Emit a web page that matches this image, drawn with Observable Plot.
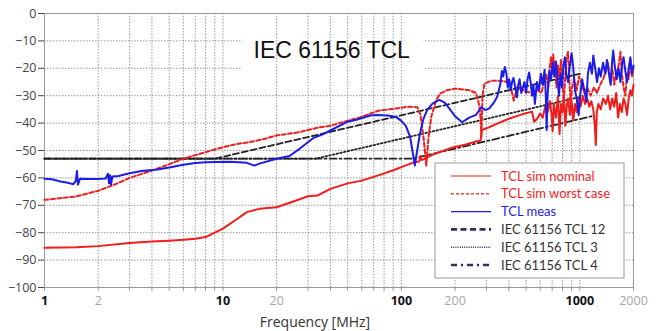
<!DOCTYPE html>
<html><head><meta charset="utf-8">
<script src="https://cdn.jsdelivr.net/npm/d3@7"></script>
<script src="https://cdn.jsdelivr.net/npm/@observablehq/plot@0.6"></script>
<style>
html,body{margin:0;padding:0;background:#fff;}
#chart{position:relative;width:658px;height:331px;}
</style></head><body><div id="chart"></div>
<script>
// [frequency MHz, TCL dB]
const simNominal = [[1,-85.5],[1.5,-85.3],[2,-84.9],[3,-83.8],[4,-83.2],[5,-82.9],[6,-82.6],[7,-82.2],[8,-81.6],[9,-80],[10,-78.5],[12,-75],[13.6,-72.5],[16,-71.3],[20,-70.7],[25,-68.5],[30,-66.7],[34,-66.4],[40,-64],[50,-62],[60,-61],[75,-59],[91,-57.1],[105,-55.5],[118,-54.3],[126,-54],[128,-52],[130,-53.5],[150,-51.5],[192,-49],[230,-47.8],[265,-46.6],[278,-46.4],[282,-42.5],[310,-41.5],[350,-40],[400,-38.4],[475,-36.8],[540,-35.8],[555,-39.5],[575,-38.5],[600,-36.5],[620,-38],[640,-34],[660,-36],[680,-32],[695,-37],[705,-43],[715,-33],[735,-38],[755,-30],[770,-44],[785,-33],[800,-36],[815,-30],[830,-41],[845,-34],[860,-31],[880,-37],[900,-32],[920,-39],[940,-33],[960,-36],[985,-31],[1010,-34],[1040,-30],[1070,-33],[1100,-31],[1130,-34],[1160,-32],[1190,-35],[1215,-41],[1230,-48],[1245,-36],[1270,-33],[1310,-35],[1350,-31],[1400,-33],[1440,-30],[1480,-35],[1520,-31],[1560,-34],[1600,-29],[1640,-38],[1680,-33],[1720,-36],[1760,-31],[1800,-33],[1840,-37],[1880,-31],[1920,-28],[1960,-30],[2000,-26]];
const simWorst = [[1,-68],[1.5,-66.8],[2,-64.7],[2.5,-62.3],[3,-60],[4,-57.3],[5,-55],[6,-53],[8,-50.6],[10,-48.8],[12,-47.6],[14,-47],[17,-45.8],[20,-44.5],[27,-43.3],[30,-42.5],[35,-41.5],[40,-41],[49,-39.3],[58,-38],[75,-35.4],[90,-34.8],[110,-34],[123,-34.2],[128,-37],[133,-45],[138,-55.5],[142,-45],[147,-37.8],[157,-31.5],[165,-29.2],[180,-28],[202,-27.4],[240,-28],[262,-29],[272,-33],[277,-37],[281,-45],[285,-30],[292,-25.6],[320,-24.5],[350,-24.5],[380,-24.7],[410,-26],[420,-30],[427,-31.8],[445,-27],[500,-28.5],[540,-29],[580,-28],[610,-29],[630,-25],[650,-22],[665,-27],[680,-19],[690,-16],[700,-22],[710,-15],[725,-20],[740,-27],[755,-19],[770,-24],[785,-17],[800,-26],[815,-32],[830,-22],[845,-16],[860,-14],[875,-25],[890,-33],[905,-27],[930,-24],[960,-28],[990,-23],[1020,-25],[1060,-29],[1100,-27],[1150,-30],[1200,-27],[1250,-29],[1300,-26],[1350,-24],[1400,-21],[1440,-18],[1480,-25],[1520,-20],[1560,-26],[1600,-22],[1650,-19],[1690,-14],[1720,-22],[1760,-27],[1800,-30],[1840,-22],[1880,-24],[1920,-17],[1960,-23],[2000,-20]];
const meas = [[1,-60.3],[1.1,-60.5],[1.23,-61.3],[1.35,-61.8],[1.45,-62.3],[1.5,-61],[1.52,-57.5],[1.54,-62.5],[1.58,-60.3],[1.8,-60.4],[2.0,-60.4],[2.2,-60.2],[2.27,-58.5],[2.3,-62],[2.33,-59],[2.36,-62.5],[2.4,-59.5],[2.6,-59.3],[3,-58.3],[3.5,-57.5],[4.3,-56.9],[5,-56.2],[6,-55.2],[7,-54.6],[8,-54.3],[9.2,-54.2],[11,-54.1],[13.6,-54.5],[15,-55.5],[16,-54.8],[20,-53],[23.6,-52],[27,-49.3],[32,-45.5],[36,-44.2],[40,-42.7],[50,-39.5],[56,-38.8],[67,-37.2],[72.5,-37],[84,-37.2],[93.5,-37.8],[100,-39.2],[106,-41],[112,-45],[116,-51],[119,-55.5],[122,-51],[127,-44],[133,-38.5],[140,-35],[150,-32.8],[163,-31.5],[175,-32.5],[186,-34.7],[200,-37.5],[219,-39.7],[240,-38],[262,-37],[272,-35.5],[280,-34.2],[295,-35.2],[310,-34.7],[330,-32.5],[344,-30.5],[358,-26],[366,-21],[372,-23],[380,-19.5],[388,-22],[395,-27],[402,-24],[410,-28],[417,-25],[425,-23.5],[435,-27],[445,-30.6],[452,-26],[460,-24],[470,-29],[480,-27],[490,-25],[500,-29],[510,-24],[520,-21.5],[530,-25],[540,-30],[550,-26],[560,-33],[575,-25],[590,-28],[605,-22],[620,-26],[635,-20.5],[645,-30],[652,-42.5],[660,-30],[675,-21],[690,-24],[705,-18],[720,-23],[735,-17.5],[750,-24],[765,-30],[780,-22],[795,-27],[810,-19],[825,-16],[840,-22],[860,-25],[880,-19],[900,-14.5],[920,-20],[940,-28],[960,-31],[985,-37],[1005,-30],[1030,-24],[1060,-28],[1090,-32],[1110,-22],[1140,-18],[1170,-22],[1190,-15.3],[1220,-20],[1250,-25],[1280,-20],[1310,-23],[1350,-18],[1390,-22],[1420,-17],[1450,-21],[1490,-26],[1520,-17],[1540,-13.5],[1570,-19],[1610,-24],[1650,-20],[1690,-25],[1730,-18],[1760,-16],[1800,-21],[1840,-25],[1880,-20],[1920,-16],[1960,-22],[2000,-19]];
const iecTcl12 = [[1,-53],[9,-53],[1000,-22]];
const iecTcl3 = [[1,-53],[33,-53],[1000,-30.5]];
const iecTcl4 = [[1,-53],[115,-53],[1200,-37.3]];

const seriesNames = ["TCL sim nominal","TCL sim worst case","TCL meas","IEC 61156 TCL 12","IEC 61156 TCL 3","IEC 61156 TCL 4"];
const xTickLabels = [1,2,3,4,5,6,8,10,20,30,40,60,100,200,300,500,1000,2000];
const xMajorLabels = [1,10,100,1000];
const xGridValues = [2,3,4,5,6,7,8,9,10,20,30,40,50,60,70,80,90,100,200,300,400,500,600,700,800,900,1000];
const yTicks = [0,-10,-20,-30,-40,-50,-60,-70,-80,-90,-100];
const titleText = "IEC 61156 TCL";
const xLabelText = "Frequency [MHz]";

const rows = arr => arr.map(([f, db]) => ({f, db}));

const styles = [
  {stroke:"#f21c1c", width:2, dash:null, lw:1.2, ldash:null, text:"#f21c1c"},
  {stroke:"#f21c1c", width:2, dash:"4,2.5", lw:1.2, ldash:"3,2", text:"#f21c1c"},
  {stroke:"#1c1ce8", width:2, dash:null, lw:1.2, ldash:null, text:"#1c1ce8"},
  {stroke:"#222", width:1.8, dash:"6,3", lw:2.6, ldash:"6,3.5", lstroke:"#2c2f66", text:"#333"},
  {stroke:"#222", width:1.8, dash:"1.6,2.2", lw:1.5, ldash:"1,1.2", lstroke:"#2c2f66", text:"#333"},
  {stroke:"#222", width:1.8, dash:"7,3,2,3", lw:2.4, ldash:"6,4,2,4", lstroke:"#2c2f66", text:"#333"}
];
const seriesData = [simNominal, simWorst, meas, iecTcl12, iecTcl3, iecTcl4];
const drawOrder = [3,4,5,1,0,2];

const minorLabels = xTickLabels.filter(d => !xMajorLabels.includes(d));

const plot = Plot.plot({
  width: 658, height: 331,
  marginLeft: 44, marginRight: 25, marginTop: 13, marginBottom: 44,
  style: {fontFamily: "'Open Sans', sans-serif", fontSize: "12.5px", background: "#fff"},
  x: {type: "log", domain: [1, 2000]},
  y: {domain: [-100, 0]},
  marks: [
    Plot.ruleY(yTicks.filter(d => d > -100 && d < 0), {stroke: "#9a9a9a", strokeDasharray: "1.5,1.5", strokeWidth: 1}),
    Plot.rect([0], {x1: 12.8, x2: 134, y1: -5, y2: -26, fill: "#fff"}),
    Plot.ruleX(xGridValues, {stroke: "#9a9a9a", strokeDasharray: "1.5,1.5", strokeWidth: 1}),
    Plot.frame({stroke: "#999"}),
    ...drawOrder.map(i => Plot.line(rows(seriesData[i]), {
      x: "f", y: "db", stroke: styles[i].stroke, strokeWidth: styles[i].width,
      strokeDasharray: styles[i].dash, curve: "linear"
    })),
    Plot.axisY(yTicks, {tickSize: 6, tickPadding: 2, color: "#444", fontSize: 12.5, label: null}),
    Plot.axisX([1, ...xGridValues, 2000], {tickSize: 4, tickFormat: () => "", stroke: "#999", label: null}),
    Plot.axisX(minorLabels, {tickSize: 0, tickPadding: 9, fill: "#a8a8a8", fontSize: 12.5, tickFormat: d => String(d), label: null}),
    Plot.axisX(xMajorLabels, {tickSize: 0, tickPadding: 9, fill: "#111", fontSize: 12.5, fontWeight: "bold", tickFormat: d => String(d), label: null}),
    Plot.text([xLabelText], {frameAnchor: "bottom", dy: 35, dx: -24, fontSize: 14, fill: "#333", lineAnchor: "middle"}),
    Plot.text([titleText], {frameAnchor: "top-left", dx: 209, dy: 37, textAnchor: "start", lineAnchor: "middle", fontSize: 23, fontFamily: "'Liberation Sans', Arial, sans-serif", fill: "#111"})
  ]
});

// legend inside the plot area
const svg = d3.select(plot);
const lg = svg.append("g").attr("transform", "translate(435,163)").attr("text-anchor", "start");
lg.append("rect").attr("width", 189).attr("height", 115).attr("fill", "#fff").attr("stroke", "#999").attr("stroke-width", 1);
seriesNames.forEach((name, i) => {
  const yy = 13 + i * 17.8;
  const s = styles[i];
  lg.append("line").attr("x1", 16).attr("x2", 56).attr("y1", yy).attr("y2", yy)
    .attr("stroke", s.lstroke || s.stroke).attr("stroke-width", s.lw)
    .attr("stroke-dasharray", s.ldash);
  lg.append("text").attr("x", 66).attr("y", yy).attr("dy", "0.36em").attr("text-anchor", "start")
    .attr("fill", s.text).attr("font-family", "Lato, sans-serif").attr("font-size", 13).text(name);
});

document.getElementById("chart").appendChild(plot);
</script>
</body></html>
